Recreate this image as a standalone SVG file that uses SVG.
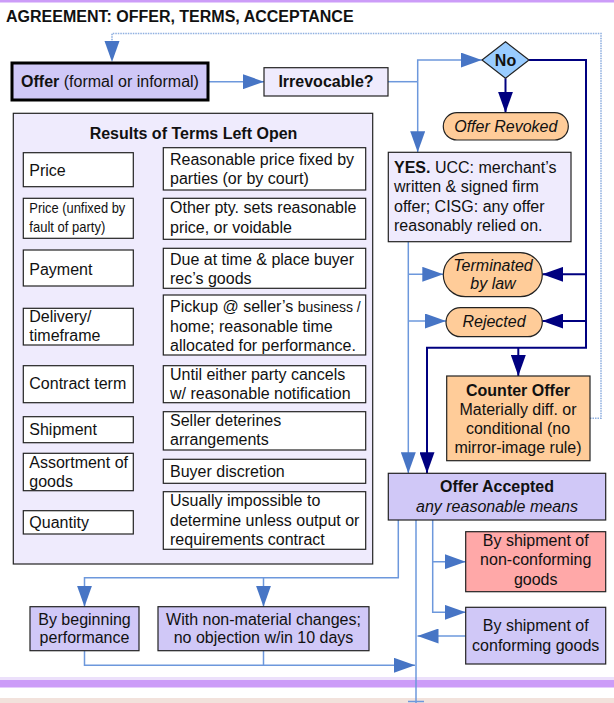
<svg xmlns="http://www.w3.org/2000/svg" width="614" height="703" viewBox="0 0 614 703">
<style>
text{font-family:"Liberation Sans",Arial,sans-serif;font-size:16px;fill:#111}
.b{font-weight:bold}
.i{font-style:italic}
.m{text-anchor:middle}
.box{stroke:#222;stroke-width:1.2}
.wh{fill:#fff}
.lav{fill:#d0c8f7}
.lt{fill:#efebfd}
.pe{fill:#ffcc99}
.lb{fill:none;stroke:#6d98dc;stroke-width:1.5}
.nv{fill:none;stroke:#000080;stroke-width:2}
.dot{fill:none;stroke:#8fb0e0;stroke-width:1.6;stroke-dasharray:1.5 1}
</style>
<defs>
<marker id="ab" markerUnits="userSpaceOnUse" markerWidth="22" markerHeight="15" refX="21" refY="7.5" orient="auto" viewBox="0 0 22 15"><path d="M0,0 L21,7.5 L0,15 z" fill="#4775c5"/></marker>
<marker id="an" markerUnits="userSpaceOnUse" markerWidth="22" markerHeight="15" refX="21" refY="7.5" orient="auto" viewBox="0 0 22 15"><path d="M0,0 L21,7.5 L0,15 z" fill="#000080"/></marker>
</defs>
<rect x="0" y="0" width="614" height="703" fill="#fff"/>
<rect x="0" y="0" width="614" height="2.5" fill="#cc9cf8"/>
<rect x="0" y="677" width="614" height="3" fill="#ece0fb"/>
<rect x="0" y="680" width="614" height="7.5" fill="#cc9cf8"/>
<rect x="0" y="698" width="614" height="5" fill="#f2e2dc"/>
<text x="6" y="22" class="b">AGREEMENT: OFFER, TERMS, ACCEPTANCE</text>

<g id="connectors">
<path class="dot" d="M590,418.3 H601 V33.5 H112 V45" />
<path d="M104.5,41 L112,62 L119.5,41 z" fill="#4775c5"/>
<path class="lb" d="M208,81.7 H264" marker-end="url(#ab)"/>
<path class="lb" d="M388,81.7 H417.7"/>
<path class="lb" d="M417.7,81.7 V60 H481.7" marker-end="url(#ab)"/>
<path class="lb" d="M417.7,81.7 V152.3" marker-end="url(#ab)"/>
<path class="nv" d="M505.5,78.3 V112.7" marker-end="url(#an)"/>
<path class="nv" d="M529,60 H586 V347.7 H427 V473.3" marker-end="url(#an)"/>
<path class="nv" d="M586,274.3 H542.3" marker-end="url(#an)"/>
<path class="nv" d="M586,321 H542.3" marker-end="url(#an)"/>
<path class="nv" d="M518.3,347.7 V376" marker-end="url(#an)"/>
<path class="lb" d="M408.3,241.7 V473.3" marker-end="url(#ab)"/>
<path class="lb" d="M408.3,274.3 H443.3" marker-end="url(#ab)"/>
<path class="lb" d="M408.3,321 H446" marker-end="url(#ab)"/>
<path class="lb" d="M398.3,520 V577.7 H84.5 V606.7" marker-end="url(#ab)"/>
<path class="lb" d="M263.5,577.7 V606.7" marker-end="url(#ab)"/>
<path class="lb" d="M416,520 V703"/>
<path class="lb" d="M408,701.5 H424"/>
<path class="lb" d="M432.7,520 V612.3 H465.7" marker-end="url(#ab)"/>
<path class="lb" d="M432.7,561.7 H465.7" marker-end="url(#ab)"/>
<path class="lb" d="M465.7,636 H417.5" marker-end="url(#ab)"/>
<path class="lb" d="M84.5,650.7 V665.3 H415" marker-end="url(#ab)"/>
<path class="lb" d="M263.5,650.7 V665.3"/>
<path class="lb" d="M133.3,170 H163.3" marker-end="url(#ab)"/>
<path class="lb" d="M133.3,217 H163.3" marker-end="url(#ab)"/>
<path class="lb" d="M133.3,269 H163.3" marker-end="url(#ab)"/>
<path class="lb" d="M133.3,326 H163.3" marker-end="url(#ab)"/>
<path class="lb" d="M133.3,384 H163.3" marker-end="url(#ab)"/>
<path class="lb" d="M133.3,430.7 H163.3" marker-end="url(#ab)"/>
<path class="lb" d="M133.3,472.3 H163.3" marker-end="url(#ab)"/>
<path class="lb" d="M133.3,520.7 H163.3" marker-end="url(#ab)"/>
</g>

<g id="offer">
<rect x="12" y="63" width="196" height="37" class="lav" stroke="#000" stroke-width="3"/>
<text x="110" y="87" class="m"><tspan class="b">Offer</tspan> (formal or informal)</text>
</g>
<g id="irrevocable">
<rect x="264" y="67.7" width="124" height="28.3" class="box lt"/>
<text x="326" y="87" class="m b">Irrevocable?</text>
</g>
<g id="no">
<path d="M505.5,41.7 L529,60 L505.5,78.3 L482,60 z" fill="#99ccff" stroke="#222" stroke-width="1.2"/>
<text x="505.5" y="65.5" class="m b">No</text>
</g>
<g id="revoked">
<rect x="443.3" y="112.7" width="125" height="27.3" rx="13.6" class="box pe"/>
<text x="505.8" y="131.5" class="m i">Offer Revoked</text>
</g>
<g id="yes">
<rect x="388.3" y="152.3" width="182.7" height="89.4" class="box lt"/>
<text x="394" y="173"><tspan class="b">YES.</tspan> UCC: merchant’s</text>
<text x="394" y="192">written &amp; signed firm</text>
<text x="394" y="211.5">offer; CISG: any offer</text>
<text x="394" y="230.5">reasonably relied on.</text>
</g>
<g id="terminated">
<rect x="443.3" y="252.7" width="99" height="44" rx="22" class="box pe"/>
<text x="493" y="270.5" class="m i">Terminated</text>
<text x="493" y="289" class="m i">by law</text>
</g>
<g id="rejected">
<rect x="446" y="307.7" width="96.3" height="29" rx="14.5" class="box pe"/>
<text x="494" y="327" class="m i">Rejected</text>
</g>
<g id="counter">
<rect x="446.7" y="376" width="143.3" height="84.7" class="box pe"/>
<text x="518" y="395.5" class="m b">Counter Offer</text>
<text x="518" y="415" class="m">Materially diff. or</text>
<text x="518" y="434" class="m">conditional (no</text>
<text x="518" y="453" class="m">mirror-image rule)</text>
</g>
<g id="accepted">
<rect x="388.3" y="473.3" width="217.4" height="46.7" class="box lav"/>
<text x="497" y="492" class="m b">Offer Accepted</text>
<text x="497" y="511.5" class="m i">any reasonable means</text>
</g>
<g id="nonconforming">
<rect x="465.7" y="531.7" width="140" height="60" class="box" fill="#ffa8a8"/>
<text x="535.7" y="545.5" class="m">By shipment of</text>
<text x="535.7" y="565" class="m">non-conforming</text>
<text x="535.7" y="584.5" class="m">goods</text>
</g>
<g id="conforming">
<rect x="465.7" y="607.3" width="140" height="56.7" class="box lav"/>
<text x="535.7" y="630.5" class="m">By shipment of</text>
<text x="535.7" y="650.5" class="m">conforming goods</text>
</g>
<g id="beginning">
<rect x="30" y="606.7" width="109" height="44" class="box lav"/>
<text x="84.5" y="624.5" class="m">By beginning</text>
<text x="84.5" y="643" class="m">performance</text>
</g>
<g id="nonmaterial">
<rect x="158" y="606.7" width="211" height="44" class="box lav"/>
<text x="263.5" y="624.5" class="m">With non-material changes;</text>
<text x="263.5" y="643" class="m">no objection w/in 10 days</text>
</g>

<g id="results">
<rect x="13.3" y="113.3" width="359.4" height="450.7" class="box lt"/>
<text x="193.5" y="138.5" class="m b">Results of Terms Left Open</text>
</g>
<g id="t-price">
<rect x="23.3" y="152.7" width="110" height="34" class="box wh"/>
<text x="29.3" y="175.5">Price</text>
<rect x="163.3" y="147.7" width="202.4" height="42.3" class="box wh"/>
<text x="170" y="165">Reasonable price fixed by</text>
<text x="170" y="184">parties (or by court)</text>
</g>
<g id="t-unfixed">
<rect x="23.3" y="198.3" width="110" height="40" class="box wh"/>
<text x="29.3" y="212.5" style="font-size:15px" textLength="96" lengthAdjust="spacingAndGlyphs">Price (unfixed by</text>
<text x="29.3" y="231.5" style="font-size:15px" textLength="76" lengthAdjust="spacingAndGlyphs">fault of party)</text>
<rect x="163.3" y="198.3" width="202.4" height="41" class="box wh"/>
<text x="170" y="213">Other pty. sets reasonable</text>
<text x="170" y="232.5">price, or voidable</text>
</g>
<g id="t-payment">
<rect x="23.3" y="250" width="110" height="36" class="box wh"/>
<text x="29.3" y="274.5">Payment</text>
<rect x="163.3" y="248.3" width="202.4" height="40" class="box wh"/>
<text x="170" y="265">Due at time &amp; place buyer</text>
<text x="170" y="284">rec’s goods</text>
</g>
<g id="t-delivery">
<rect x="23.3" y="308.3" width="110" height="36.7" class="box wh"/>
<text x="29.3" y="322">Delivery/</text>
<text x="29.3" y="340.5">timeframe</text>
<rect x="163.3" y="295" width="202.4" height="60" class="box wh"/>
<text x="170" y="312">Pickup @ seller’s <tspan style="font-size:14px">business /</tspan></text>
<text x="170" y="331.5">home; reasonable time</text>
<text x="170" y="350.5">allocated for performance.</text>
</g>
<g id="t-term">
<rect x="23.3" y="365.7" width="110" height="37" class="box wh"/>
<text x="29.3" y="389">Contract term</text>
<rect x="163.3" y="365.7" width="202.4" height="37" class="box wh"/>
<text x="170" y="380">Until either party cancels</text>
<text x="170" y="399">w/ reasonable notification</text>
</g>
<g id="t-shipment">
<rect x="23.3" y="416.7" width="110" height="26" class="box wh"/>
<text x="29.3" y="435">Shipment</text>
<rect x="163.3" y="411.7" width="202.4" height="38.3" class="box wh"/>
<text x="170" y="426">Seller deterines</text>
<text x="170" y="445">arrangements</text>
</g>
<g id="t-assortment">
<rect x="23.3" y="453.3" width="110" height="37.4" class="box wh"/>
<text x="29.3" y="467.5">Assortment of</text>
<text x="29.3" y="487">goods</text>
<rect x="163.3" y="459.3" width="202.4" height="24" class="box wh"/>
<text x="170" y="476.5">Buyer discretion</text>
</g>
<g id="t-quantity">
<rect x="23.3" y="510.7" width="110" height="23.3" class="box wh"/>
<text x="29.3" y="527.5">Quantity</text>
<rect x="163.3" y="491.7" width="202.4" height="57.6" class="box wh"/>
<text x="170" y="506">Usually impossible to</text>
<text x="170" y="525.5">determine unless output or</text>
<text x="170" y="545">requirements contract</text>
</g>
</svg>
